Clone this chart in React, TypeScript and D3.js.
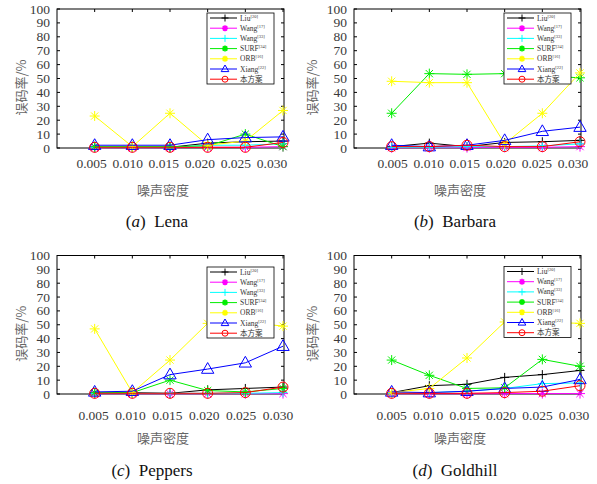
import React, { useEffect, useRef } from "react";
import * as d3 from "d3";

// noise density on x, bit error rate (%) on y
const noiseDensity = [0.005, 0.01, 0.015, 0.02, 0.025, 0.03];
const xTickLabels = ["0.005", "0.010", "0.015", "0.020", "0.025", "0.030"];
const yTicks = [0, 10, 20, 30, 40, 50, 60, 70, 80, 90, 100];

const methodNames = ["Liu", "Wang", "Wang", "SURF", "ORB", "Xiang", "本方案"];
const methodRefs = ["[20]", "[17]", "[33]", "[34]", "[16]", "[22]", ""];
const methodColors = ["#000000", "#ff00ff", "#00ffff", "#00ee00", "#ffff00", "#0000ff", "#ff0000"];
const methodMarkers = ["plus", "star", "plus", "star", "star", "triangle", "circle"];

// rows follow methodNames
const lenaValues = [
    [0.5, 0.5, 0.5, 3.5, 4.5, 5],
    [0.2, 0.2, 0.2, 0.5, 0.5, 1],
    [0.5, 0.5, 0.5, 2, 2, 3],
    [1, 1, 1, 1.5, 10, 1],
    [23, 1, 25, 2, 5, 27],
    [2, 2, 2, 6, 7.5, 8],
    [0.5, 0.5, 0.5, 0.5, 0.5, 4],
];
const barbaraValues = [
    [1, 3.5, 1, 4, 4.5, 5.5],
    [0.2, 0.2, 0.3, 0.5, 0.5, 1],
    [0.5, 0.5, 1, 1, 1.5, 3],
    [25, 53.5, 53, 53.5, 52, 50.5],
    [48, 47, 47, 3, 25, 54],
    [2, 1, 2, 5.5, 12, 15],
    [1, 1, 2, 1, 1, 4.5],
];
const peppersValues = [
    [0.5, 1, 0.5, 3, 4, 5],
    [0.2, 0.2, 0.2, 0.2, 0.2, 0.3],
    [0.5, 0.5, 0.5, 0.5, 0.5, 1],
    [1, 1, 10, 2.5, 1.5, 4],
    [47, 1, 24.5, 51, 52, 49],
    [1.5, 2, 14, 18, 22.5, 34.5],
    [0.5, 0.5, 0.5, 0.5, 1, 5],
];
const goldhillValues = [
    [1, 6, 7, 12, 14, 17],
    [0.2, 0.2, 0.2, 0.3, 0.3, 0.3],
    [0.5, 1, 2, 4, 7.5, 8],
    [24.5, 13.5, 4, 4.5, 25, 20],
    [1, 4, 26, 52, 52, 51],
    [1.5, 1, 2, 4, 5, 10.5],
    [0.5, 0.5, 0.5, 1, 2, 6],
];

const panels = [
    { values: lenaValues, tag: "a", name: "Lena", left: 57, right: 283, top: 9, bottom: 148, legTop: 4, labShift: [-3, -11], rowOff: 0, capShift: -13, yTitleOff: -35 },
    { values: barbaraValues, tag: "b", name: "Barbara", left: 354, right: 580, top: 9, bottom: 148, legTop: 4, labShift: [1, -7], rowOff: 0, capShift: -12, yTitleOff: -41 },
    { values: peppersValues, tag: "c", name: "Peppers", left: 57, right: 283, top: 255.5, bottom: 394, legTop: 11.5, labShift: [-1, -5], rowOff: 3, capShift: -18, yTitleOff: -35 },
    { values: goldhillValues, tag: "d", name: "Goldhill", left: 354, right: 580, top: 255.5, bottom: 394, legTop: 11, labShift: [0, -6], rowOff: 3, capShift: -12, yTitleOff: -41 },
];

const serif = "Liberation Serif, Times New Roman, serif";
const cjk = "Noto Sans CJK SC, sans-serif";

function markerPath(type: string, s: number) {
    if (type === "plus") return `M${-s},0H${s}M0,${-s}V${s}`;
    if (type === "star") {
        const d = s * 0.72;
        return `M${-s},0H${s}M0,${-s}V${s}M${-d},${-d}L${d},${d}M${-d},${d}L${d},${-d}`;
    }
    if (type === "triangle") return `M0,${-s}L${s * 0.95},${s * 0.65}L${-s * 0.95},${s * 0.65}Z`;
    return "";
}

function drawMarker(g: any, type: string, color: string, cx: number, cy: number, small: boolean) {
    if (type === "circle") {
        g.append("circle").attr("cx", cx).attr("cy", cy).attr("r", small ? 3 : 5)
            .attr("fill", "none").attr("stroke", color).attr("stroke-width", 1);
        return;
    }
    const size = type === "triangle" ? (small ? 4 : 6.5) : type === "star" ? (small ? 3 : 5) : (small ? 3.5 : 4.5);
    g.append("path")
        .attr("transform", `translate(${cx},${cy})`)
        .attr("d", markerPath(type, size))
        .attr("fill", "none")
        .attr("stroke", color)
        .attr("stroke-width", small && type === "star" ? 1.6 : 1);
}

export default function App() {
    const svgRef = useRef<SVGSVGElement>(null);

    useEffect(() => {
        const svg = d3.select(svgRef.current);
        svg.selectAll("*").remove();

        panels.forEach((p) => {
            const x = d3.scaleLinear().domain([0, 0.03]).range([p.left, p.right]);
            const y = d3.scaleLinear().domain([0, 100]).range([p.bottom, p.top]);
            const labX = d3.scaleLinear().domain([0.005, 0.03])
                .range([x(0.005) + p.labShift[0], x(0.03) + p.labShift[1]]);
            const g = svg.append("g");

            // frame
            g.append("rect")
                .attr("x", p.left).attr("y", p.top)
                .attr("width", p.right - p.left + 1).attr("height", p.bottom - p.top)
                .attr("fill", "none").attr("stroke", "#000").attr("stroke-width", 1);

            // y ticks, inward on both sides
            yTicks.forEach((t) => {
                const yy = y(t);
                g.append("line").attr("x1", p.left).attr("x2", p.left + 3).attr("y1", yy).attr("y2", yy).attr("stroke", "#000");
                g.append("line").attr("x1", p.right + 1).attr("x2", p.right - 2).attr("y1", yy).attr("y2", yy).attr("stroke", "#000");
                g.append("text")
                    .attr("x", p.left - 7).attr("y", yy + 4.5)
                    .attr("text-anchor", "end")
                    .style("font-family", serif).style("font-size", "13.5px").attr("fill", "#3a3a3a")
                    .text(t);
            });

            // x ticks
            noiseDensity.forEach((v, i) => {
                const xx = x(v);
                g.append("line").attr("x1", xx).attr("x2", xx).attr("y1", p.bottom).attr("y2", p.bottom - 3).attr("stroke", "#000");
                g.append("line").attr("x1", xx).attr("x2", xx).attr("y1", p.top).attr("y2", p.top + 3).attr("stroke", "#000");
                g.append("text")
                    .attr("x", labX(v)).attr("y", p.bottom + 19.5 + p.rowOff * 2)
                    .attr("text-anchor", "middle")
                    .style("font-family", serif).style("font-size", "13.5px").attr("fill", "#3a3a3a")
                    .text(xTickLabels[i]);
            });

            // axis titles
            const midX = (p.left + p.right) / 2;
            const midY = (p.top + p.bottom) / 2 + 9;
            g.append("text")
                .attr("transform", `translate(${p.left + p.yTitleOff + 4},${midY}) rotate(-90)`)
                .attr("text-anchor", "middle")
                .style("font-family", cjk).style("font-size", "13px").attr("fill", "#666")
                .text("误码率/%");
            g.append("text")
                .attr("x", midX - 7).attr("y", p.bottom + 47 + p.rowOff * 0.7)
                .attr("text-anchor", "middle")
                .style("font-family", cjk).style("font-size", "13px").attr("fill", "#666")
                .text("噪声密度");

            const cap = g.append("text")
                .attr("x", midX + p.capShift).attr("y", p.bottom + 79 + p.rowOff)
                .attr("text-anchor", "middle")
                .style("font-family", serif).style("font-size", "17px").attr("fill", "#111");
            cap.append("tspan").text("(");
            cap.append("tspan").style("font-style", "italic").text(p.tag);
            cap.append("tspan").text(")\u00a0\u00a0" + p.name);

            // series
            const line = d3.line<number>()
                .x((_, i) => x(noiseDensity[i]))
                .y((d) => y(d));
            p.values.forEach((vals, k) => {
                g.append("path")
                    .datum(vals)
                    .attr("fill", "none")
                    .attr("stroke", methodColors[k])
                    .attr("stroke-width", 1)
                    .attr("d", line);
                vals.forEach((v, i) => {
                    drawMarker(g, methodMarkers[k], methodColors[k], x(noiseDensity[i]), y(v), false);
                });
            });

            // legend
            const lw = 67;
            const lh = 71;
            const lx = p.right - 9 - lw;
            const ly = p.top + p.legTop;
            const leg = g.append("g");
            leg.append("rect").attr("x", lx).attr("y", ly).attr("width", lw).attr("height", lh)
                .attr("fill", "#fff").attr("stroke", "#000").attr("stroke-width", 0.8);
            methodNames.forEach((name, k) => {
                const ry = ly + 5 + k * 10.2;
                leg.append("line").attr("x1", lx + 3).attr("x2", lx + 30).attr("y1", ry).attr("y2", ry)
                    .attr("stroke", methodColors[k]).attr("stroke-width", 1);
                drawMarker(leg, methodMarkers[k], methodColors[k], lx + 18, ry, true);
                const t = leg.append("text")
                    .attr("x", lx + 33).attr("y", ry + 2.5)
                    .style("font-family", k === 6 ? cjk : serif)
                    .style("font-size", "7.5px").attr("fill", "#333");
                t.append("tspan").text(name);
                if (methodRefs[k]) {
                    t.append("tspan").attr("dy", -3).style("font-size", "4.5px").text(methodRefs[k]);
                }
            });
        });
    }, []);

    return (
        <svg
            ref={svgRef}
            width={597}
            height={484}
            style={{ position: "absolute", left: 0, top: 0, background: "#fff" }}
        />
    );
}
